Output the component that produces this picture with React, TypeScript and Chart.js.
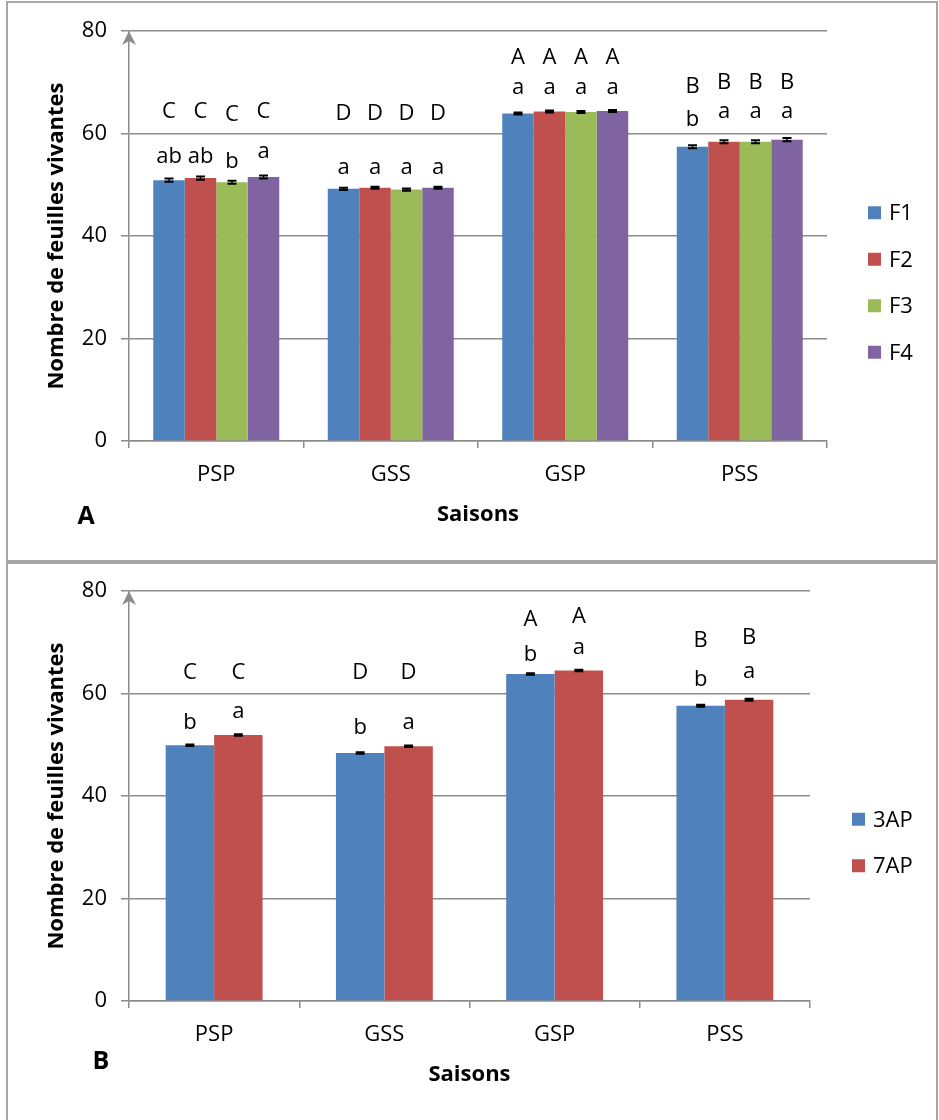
import React, { useEffect, useRef } from "react";
import { Chart, registerables } from "chart.js";

Chart.register(...registerables);

// ---------- data ----------
const seasons = ["PSP", "GSS", "GSP", "PSS"];
const yMin = 0;
const yMax = 80;
const yStep = 20;

// Panel A : F1..F4
const seriesA = ["F1", "F2", "F3", "F4"];
const f1 = [50.9, 49.2, 63.9, 57.4];
const f2 = [51.3, 49.4, 64.3, 58.4];
const f3 = [50.5, 49.05, 64.2, 58.4];
const f4 = [51.5, 49.4, 64.4, 58.8];
const errF1 = [0.3, 0.2, 0.2, 0.3];
const errF2 = [0.3, 0.2, 0.2, 0.3];
const errF3 = [0.3, 0.2, 0.2, 0.3];
const errF4 = [0.3, 0.2, 0.2, 0.3];
const upperF1 = ["C", "D", "A", "B"];
const upperF2 = ["C", "D", "A", "B"];
const upperF3 = ["C", "D", "A", "B"];
const upperF4 = ["C", "D", "A", "B"];
const lowerF1 = ["ab", "a", "a", "b"];
const lowerF2 = ["ab", "a", "a", "a"];
const lowerF3 = ["b", "a", "a", "a"];
const lowerF4 = ["a", "a", "a", "a"];
// label anchor levels (in y units)
const upperLvF1 = [64.2, 63.8, 74.7, 69.1];
const upperLvF2 = [64.2, 63.8, 74.7, 69.9];
const upperLvF3 = [63.6, 63.8, 74.7, 69.9];
const upperLvF4 = [64.2, 63.8, 74.7, 69.9];
const lowerLvF1 = [55.4, 53.3, 68.9, 62.6];
const lowerLvF2 = [55.4, 53.3, 68.9, 64.2];
const lowerLvF3 = [54.4, 53.3, 68.9, 64.2];
const lowerLvF4 = [56.4, 53.3, 68.9, 64.2];

// Panel B : 3AP, 7AP
const seriesB = ["3AP", "7AP"];
const ap3 = [49.9, 48.4, 63.8, 57.6];
const ap7 = [51.9, 49.7, 64.5, 58.8];
const err3 = [0.15, 0.15, 0.15, 0.2];
const err7 = [0.15, 0.15, 0.15, 0.2];
const upper3 = ["C", "D", "A", "B"];
const upper7 = ["C", "D", "A", "B"];
const lower3 = ["b", "b", "b", "b"];
const lower7 = ["a", "a", "a", "a"];
const upperLv3 = [64.0, 64.0, 74.3, 70.2];
const upperLv7 = [64.0, 64.0, 74.9, 70.8];
const lowerLv3 = [54.2, 53.3, 67.5, 62.6];
const lowerLv7 = [56.4, 54.2, 68.9, 64.2];

// ---------- styles ----------
const COLORS = ["#4F81BD", "#C0504D", "#9BBB59", "#8064A2"];
const FONT = "'Open Sans', 'Noto Sans', sans-serif";
const GRID = "#8c8c8c";
const FS = 22;

type PanelDef = {
  series: string[];
  values: number[][];
  errors: number[][];
  upper: string[][];
  lower: string[][];
  upperLv: number[][];
  lowerLv: number[][];
  catPct: number;
  padRight: number;
  padTop: number;
  xHeight: number;
  titlePadBottom: number;
  letter: string;
  letterX: number;
  letterY: number;
  legendDx: number;
};

function makeConfig(p: PanelDef): any {
  const annot = {
    id: "annot",
    afterDatasetsDraw(chart: any) {
      const ctx = chart.ctx;
      const ys = chart.scales.y;
      ctx.save();
      p.values.forEach((vals, di) => {
        const meta = chart.getDatasetMeta(di);
        meta.data.forEach((el: any, j: number) => {
          const v = vals[j];
          const e = p.errors[di][j];
          const yt = ys.getPixelForValue(v + e);
          const yb = ys.getPixelForValue(v - e);
          ctx.strokeStyle = "#000";
          ctx.lineWidth = 1.5;
          ctx.beginPath();
          ctx.moveTo(el.x, yt);
          ctx.lineTo(el.x, yb);
          ctx.stroke();
          ctx.lineWidth = 2;
          ctx.beginPath();
          ctx.moveTo(el.x - 4.5, yt);
          ctx.lineTo(el.x + 4.5, yt);
          ctx.moveTo(el.x - 4.5, yb);
          ctx.lineTo(el.x + 4.5, yb);
          ctx.stroke();
          ctx.fillStyle = "#000";
          ctx.font = `${FS}px ${FONT}`;
          ctx.textAlign = "center";
          ctx.textBaseline = "middle";
          ctx.fillText(p.lower[di][j], el.x, ys.getPixelForValue(p.lowerLv[di][j]));
          ctx.fillText(p.upper[di][j], el.x, ys.getPixelForValue(p.upperLv[di][j]));
        });
      });
      ctx.restore();
    },
    afterDraw(chart: any) {
      const ctx = chart.ctx;
      const ca = chart.chartArea;
      ctx.save();
      // arrow on y axis
      ctx.fillStyle = GRID;
      ctx.beginPath();
      ctx.moveTo(ca.left, ca.top);
      ctx.lineTo(ca.left - 7, ca.top + 14);
      ctx.lineTo(ca.left, ca.top + 10);
      ctx.lineTo(ca.left + 7, ca.top + 14);
      ctx.closePath();
      ctx.fill();
      // legend
      const n = p.series.length;
      const spacing = 46.5;
      const cy = chart.height / 2 + 2;
      const lx = ca.right + p.legendDx;
      ctx.font = `${FS}px ${FONT}`;
      ctx.textAlign = "left";
      ctx.textBaseline = "middle";
      p.series.forEach((name, i) => {
        const y = cy + (i - (n - 1) / 2) * spacing;
        ctx.fillStyle = COLORS[i];
        ctx.fillRect(lx, y - 6.5, 13, 13);
        ctx.fillStyle = "#000";
        ctx.fillText(name, lx + 21, y + 1);
      });
      // panel letter
      ctx.font = `bold 25px ${FONT}`;
      ctx.textAlign = "center";
      ctx.fillText(p.letter, p.letterX, p.letterY);
      ctx.restore();
    },
  };

  return {
    type: "bar",
    data: {
      labels: seasons,
      datasets: p.series.map((name, i) => ({
        label: name,
        data: p.values[i],
        backgroundColor: COLORS[i],
        borderWidth: 0,
        categoryPercentage: p.catPct,
        barPercentage: 1,
      })),
    },
    options: {
      responsive: false,
      animation: false,
      devicePixelRatio: 1,
      layout: { padding: { left: 0, top: p.padTop, right: p.padRight, bottom: 0 } },
      plugins: { legend: { display: false }, tooltip: { enabled: false } },
      scales: {
        x: {
          offset: true,
          grid: {
            offset: true,
            drawOnChartArea: false,
            drawTicks: true,
            tickLength: 7,
            color: GRID,
            lineWidth: 1.5,
          },
          border: { color: GRID, width: 1.5 },
          ticks: {
            font: { family: FONT, size: FS },
            color: "#000",
            padding: 14,
            maxRotation: 0,
          },
          title: {
            display: true,
            text: "Saisons",
            font: { family: FONT, size: 22, weight: "bold" },
            color: "#000",
            padding: { top: 0, bottom: p.titlePadBottom },
          },
          afterFit: (s: any) => {
            s.height = p.xHeight;
          },
        },
        y: {
          min: yMin,
          max: yMax,
          ticks: {
            stepSize: yStep,
            font: { family: FONT, size: FS },
            color: "#000",
            padding: 14,
          },
          grid: { color: GRID, lineWidth: 1.5, tickLength: 8 },
          border: { color: GRID, width: 1.5 },
          title: {
            display: true,
            text: "Nombre de feuilles vivantes",
            font: { family: FONT, size: 22, weight: "bold" },
            color: "#000",
            padding: { top: 44, bottom: 0 },
          },
          afterFit: (s: any) => {
            s.width = 129;
          },
        },
      },
    },
    plugins: [annot],
  };
}

const panelA: PanelDef = {
  series: seriesA,
  values: [f1, f2, f3, f4],
  errors: [errF1, errF2, errF3, errF4],
  upper: [upperF1, upperF2, upperF3, upperF4],
  lower: [lowerF1, lowerF2, lowerF3, lowerF4],
  upperLv: [upperLvF1, upperLvF2, upperLvF3, upperLvF4],
  lowerLv: [lowerLvF1, lowerLvF2, lowerLvF3, lowerLvF4],
  catPct: 0.722,
  padRight: 112,
  padTop: 31,
  xHeight: 120,
  titlePadBottom: 33,
  letter: "A",
  letterX: 86,
  letterY: 517,
  legendDx: 41,
};

const panelB: PanelDef = {
  series: seriesB,
  values: [ap3, ap7],
  errors: [err3, err7],
  upper: [upper3, upper7],
  lower: [lower3, lower7],
  upperLv: [upperLv3, upperLv7],
  lowerLv: [lowerLv3, lowerLv7],
  catPct: 0.569,
  padRight: 129,
  padTop: 30,
  xHeight: 119,
  titlePadBottom: 32,
  letter: "B",
  letterX: 101,
  letterY: 501,
  legendDx: 42,
};

function ChartCanvas({ def, top, height }: { def: PanelDef; top: number; height: number }) {
  const ref = useRef<HTMLCanvasElement | null>(null);
  useEffect(() => {
    if (!ref.current) return;
    const chart = new Chart(ref.current, makeConfig(def));
    return () => chart.destroy();
  }, [def]);
  return (
    <canvas
      ref={ref}
      width={939}
      height={height}
      style={{ position: "absolute", left: 0, top, width: 939, height }}
    />
  );
}

export default function App() {
  return (
    <div
      style={{
        position: "absolute",
        left: 0,
        top: 0,
        width: 939,
        height: 1120,
        overflow: "hidden",
        background: "#fff",
      }}
    >
      <ChartCanvas def={panelA} top={0} height={561} />
      <ChartCanvas def={panelB} top={561} height={559} />
      <div
        style={{
          position: "absolute",
          left: 6,
          top: 1,
          width: 932,
          height: 561,
          border: "2px solid #a6a6a6",
          boxSizing: "border-box",
          pointerEvents: "none",
        }}
      />
      <div
        style={{
          position: "absolute",
          left: 6,
          top: 562,
          width: 932,
          height: 570,
          border: "2px solid #a6a6a6",
          boxSizing: "border-box",
          pointerEvents: "none",
        }}
      />
    </div>
  );
}
